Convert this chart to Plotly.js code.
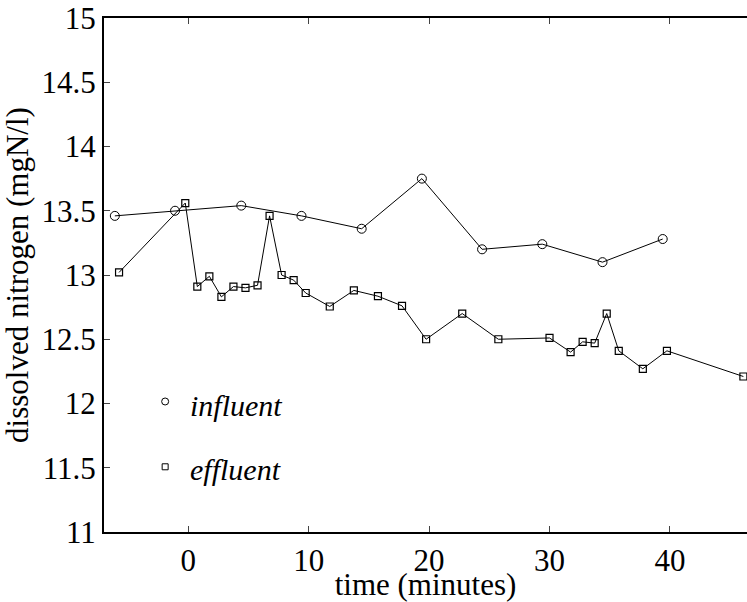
<!DOCTYPE html>
<html>
<head>
<meta charset="utf-8">
<script src="https://cdn.plot.ly/plotly-3.0.1.min.js"></script>
<style>html,body{margin:0;padding:0;background:#fff}#chart{width:747px;height:602px}</style>
</head>
<body>
<div id="chart"></div>
<script>
const influentTime = [-6.1, -1.1, 4.4, 9.4, 14.4, 19.4, 24.4, 29.4, 34.4, 39.4];
const influentN = [13.46, 13.50, 13.54, 13.46, 13.36, 13.75, 13.20, 13.24, 13.10, 13.28];

const effluentTime = [-5.75, -0.25, 0.75, 1.75, 2.75, 3.75, 4.75, 5.75, 6.75, 7.75, 8.75, 9.75,
  11.75, 13.75, 15.75, 17.75, 19.75, 22.75, 25.75, 30.0, 31.75, 32.75, 33.75, 34.75, 35.75,
  37.75, 39.75, 46.1];
const effluentN = [13.02, 13.56, 12.91, 12.99, 12.83, 12.91, 12.90, 12.92, 13.46, 13.00, 12.96, 12.86,
  12.755, 12.88, 12.835, 12.76, 12.50, 12.70, 12.50, 12.51, 12.40, 12.48, 12.47, 12.70, 12.41,
  12.27, 12.41, 12.21];

const yTicks = [11, 11.5, 12, 12.5, 13, 13.5, 14, 14.5, 15];
const yTickText = ['11', '11.5', '12', '12.5', '13', '13.5', '14', '14.5', '15'];
const xTicks = [0, 10, 20, 30, 40];
const seriesNames = ['influent', 'effluent'];
const legendLevels = [12, 11.5];

const FONT = 'Liberation Serif';

const traces = [
  {x: influentTime, y: influentN, mode: 'lines+markers', showlegend: false,
   line: {color: '#000', width: 1},
   marker: {symbol: 'circle-open', size: 9, color: '#000', line: {width: 1}}},
  {x: effluentTime, y: effluentN, mode: 'lines+markers', showlegend: false,
   line: {color: '#000', width: 1},
   marker: {symbol: 'square-open', size: 7, color: '#000', line: {width: 1.2}}},
  {x: [null], y: [null], mode: 'markers', name: ' ', legendgroup: 'a',
   marker: {symbol: 'circle-open', size: 7, color: '#000', line: {width: 1}}},
  {x: [null], y: [null], mode: 'markers', name: ' ', legendgroup: 'b',
   marker: {symbol: 'square-open', size: 6, color: '#000', line: {width: 1}}}
];

const annotations = seriesNames.map((n, i) => ({xref: 'x', yref: 'y', x: 0.0, y: legendLevels[i],
  xanchor: 'left', yanchor: 'middle', yshift: -2, showarrow: false, text: '<i>' + n + '</i>',
  font: {family: FONT, size: 30, color: '#000'}}));

const layout = {
  width: 747, height: 602,
  margin: {l: 104, r: 0, t: 18, b: 70},
  paper_bgcolor: '#fff', plot_bgcolor: '#fff',
  font: {family: FONT, size: 31, color: '#000'},
  showlegend: true,
  legend: {x: 0.064, xanchor: 'left', y: 0.19, yanchor: 'middle',
    bgcolor: 'rgba(0,0,0,0)', borderwidth: 0, tracegroupgap: 22,
    font: {family: FONT, size: 31, color: '#000'}},
  annotations: annotations,
  xaxis: {range: [-7.0, 46.4], tickvals: xTicks, ticks: 'inside', ticklen: 6, tickwidth: 1,
    showline: true, linewidth: 2, linecolor: '#000', mirror: 'ticks', showgrid: false, zeroline: false,
    tickfont: {family: FONT, size: 31, color: '#000'},
    title: {text: 'time (minutes)', font: {family: FONT, size: 31}, standoff: 0}},
  yaxis: {range: [11, 15], tickvals: yTicks, ticktext: yTickText, ticks: 'inside', ticklen: 6, tickwidth: 1,
    showline: true, linewidth: 2, linecolor: '#000', mirror: false, showgrid: false, zeroline: false,
    tickfont: {family: FONT, size: 31, color: '#000'},
    title: {text: 'dissolved nitrogen (mgN/l)', font: {family: FONT, size: 31}, standoff: 6}}
};

Plotly.newPlot('chart', traces, layout, {displayModeBar: false, staticPlot: true});
</script>
</body>
</html>
